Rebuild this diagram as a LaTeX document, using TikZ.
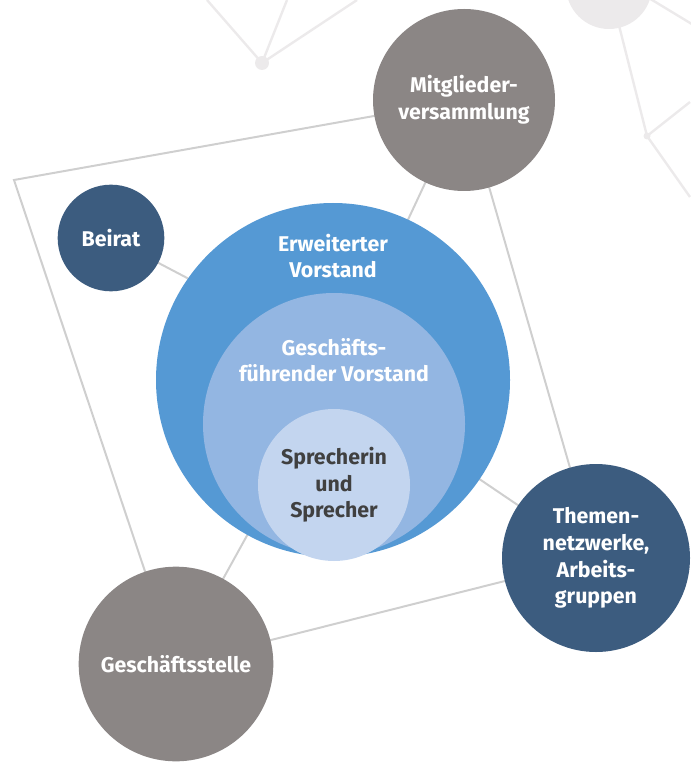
\documentclass[tikz,border=0pt]{standalone}
\usepackage{fontspec}
\setmainfont{Fira Sans}
\usetikzlibrary{backgrounds}

\definecolor{organgray}{RGB}{139,134,133}
\definecolor{organnavy}{RGB}{60,92,127}
\definecolor{boardblue}{RGB}{85,153,212}
\definecolor{execblue}{RGB}{147,182,226}
\definecolor{chairblue}{RGB}{195,213,239}
\definecolor{darktext}{RGB}{64,64,64}
\definecolor{linkgray}{RGB}{207,207,207}
\definecolor{netgray}{RGB}{236,234,235}

\tikzset{
  organ/.style={circle, draw=none, inner sep=0pt, align=center, text=white,
    font=\bfseries\fontsize{16}{20}\selectfont},
  label txt/.style={inner sep=0pt, align=center, text=white,
    font=\bfseries\fontsize{16}{20}\selectfont},
  link/.style={draw=linkgray, line width=1.5pt},
  net/.style={draw=netgray, line width=1.8pt},
}

\begin{document}
\begin{tikzpicture}[x=0.75pt,y=0.75pt,yscale=-1,xscale=1]
\useasboundingbox (0,0) rectangle (690,762);

%Shape: Circle (outer ring of the board)
\node [organ, fill=boardblue, minimum size=265.5pt] (erw) at (333,380) {};
%Shape: Circle
\node [organ, fill=execblue, minimum size=196.5pt] (gfv) at (334,424) {};
%Shape: Circle
\node [organ, fill=chairblue, text=darktext, minimum size=114pt] (spr) at (334,485) {Sprecherin\\und\\Sprecher};

%Shape: Circle
\node [organ, fill=organgray, minimum size=136.5pt] (mv) at (464,100) {Mitglieder-\\versammlung};
%Shape: Circle
\node [organ, fill=organnavy, minimum size=80pt] (beirat) at (111,238) {Beirat};
%Shape: Circle
\node [organ, fill=organnavy, minimum size=141pt] (them) at (596,558) {Themen-\\netzwerke,\\Arbeits-\\gruppen};
%Shape: Circle
\node [organ, fill=organgray, minimum size=146pt] (gst) at (176,664) {Geschäftsstelle};

% Text Node
\node [label txt] (erwlbl) at (333,256) {Erweiterter\\Vorstand};
% Text Node
\node [label txt] (gfvlbl) at (334,360) {Geschäfts-\\führender Vorstand};

\begin{scope}[on background layer]
%Shape: faint network in the corners
\coordinate (hubA) at (262,63);
\coordinate (hubB) at (647,136);
\coordinate (bigdot) at (609,-14);
\fill [netgray] (bigdot) circle (43);
\fill [netgray] (hubA) circle (7);
\fill [netgray] (hubB) circle (3.5);
\draw [net] (207,0) -- (hubA) -- (287,0);
\draw [net] (hubA) -- (357,0);
\draw [net] (bigdot) -- (hubB) -- (690,102);
\draw [net] (hubB) -- (690,197);
\draw [net] (629,-14) -- (700,29);

%Straight Lines (frame)
\coordinate (corner) at (14,180);
\draw [link] (corner) -- (mv.center) -- (them.center) -- (gst.center) -- cycle;

%Straight Lines (links to the board)
\draw [link] (beirat.center) -- (erw.145);
\draw [link] (mv.center) -- (erw.center);
\draw [link] (them.center) -- (erw.center);
\draw [link] (gst.center) -- (erw.center);
\end{scope}
\end{tikzpicture}
\end{document}
